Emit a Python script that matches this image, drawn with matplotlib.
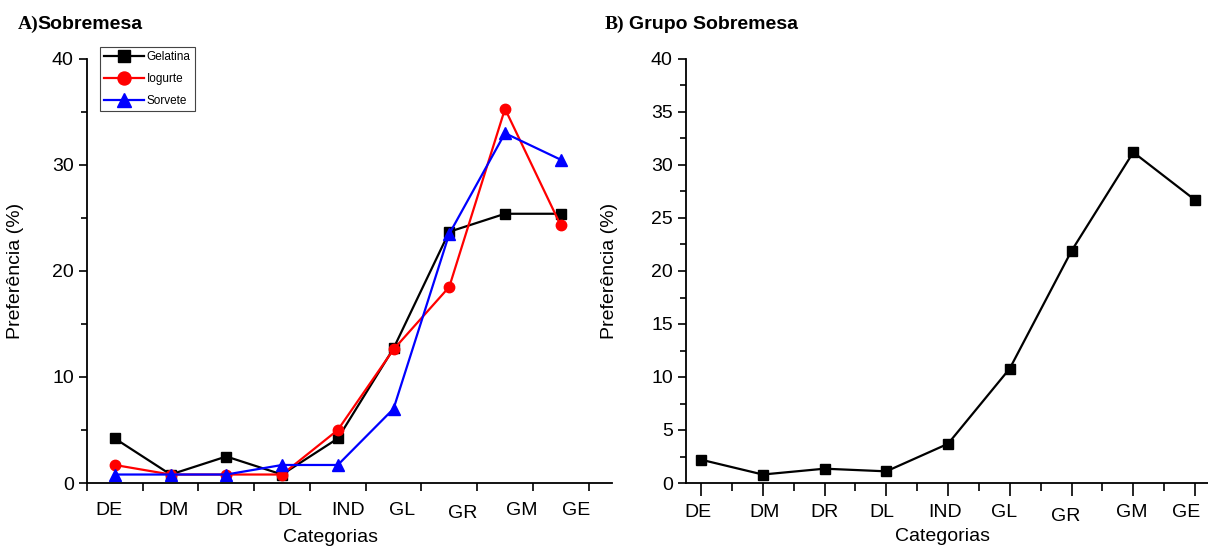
import matplotlib
matplotlib.use("Agg")
import matplotlib.pyplot as plt
import matplotlib.transforms as mtransforms
from matplotlib.ticker import MultipleLocator, FixedLocator, NullFormatter

plt.rcParams['font.family'] = ['Liberation Sans', 'DejaVu Sans']

categorias = ['DE', 'DM', 'DR', 'DL', 'IND', 'GL', 'GR', 'GM', 'GE']
pos = list(range(1, len(categorias) + 1))

gelatina = [4.2, 0.8, 2.5, 0.8, 4.2, 12.7, 23.7, 25.4, 25.4]
iogurte = [1.7, 0.8, 0.8, 0.8, 5.0, 12.6, 18.5, 35.3, 24.3]
sorvete = [0.8, 0.8, 0.8, 1.7, 1.7, 7.0, 23.5, 33.0, 30.5]

grupo = [2.2, 0.8, 1.35, 1.1, 3.7, 10.8, 21.9, 31.2, 26.7]

# small hand offsets (px) of the category labels, as in the original figure
off_a = [(-6, 0), (3, 0), (3, 0), (8, 0), (10, 0), (9, 0), (13, -3), (17, 0), (15, 0)]
off_b = [(-3, 0), (2, 0), (0, 0), (-4, 0), (-3, 0), (-6, 0), (-6, -4), (-2, 0), (-9, 0)]

W, H = 1208, 548
FS = 14
fig = plt.figure(figsize=(W / 100, H / 100), dpi=100)


def px_axes(x0, y0, x1, y1):
    return fig.add_axes([x0 / W, 1 - y1 / H, (x1 - x0) / W, (y1 - y0) / H])


def style(ax):
    for s in ['top', 'right']:
        ax.spines[s].set_visible(False)
    for s in ['left', 'bottom']:
        ax.spines[s].set_linewidth(1.3)
    ax.tick_params(which='both', direction='out', width=1.2, labelsize=FS)
    ax.tick_params(which='major', length=6)
    ax.tick_params(which='minor', length=4)
    ax.set_ylabel('Preferência (%)', fontsize=FS)
    ax.set_xlabel('Categorias', fontsize=FS)


def shift(labels, offs):
    for lab, (dx, dy) in zip(labels, offs):
        lab.set_transform(lab.get_transform() +
                          mtransforms.ScaledTranslation(dx / 100, dy / 100, fig.dpi_scale_trans))


# ---- A) Sobremesa
ax1 = px_axes(87, 59, 612, 483)
ax1.plot(pos, gelatina, 's-', color='black', lw=1.6, ms=7, label='Gelatina')
ax1.plot(pos, iogurte, 'o-', color='red', lw=1.6, ms=7.5, label='Iogurte')
ax1.plot(pos, sorvete, '^-', color='blue', lw=1.6, ms=8.5, label='Sorvete')
ax1.set_xlim(0.5, 9.92)
ax1.set_ylim(0, 40)
ax1.yaxis.set_major_locator(MultipleLocator(10))
ax1.yaxis.set_minor_locator(MultipleLocator(5))
style(ax1)
# ticks sit between the categories, labels under the points
ax1.set_xticks([p - 0.5 for p in pos] + [pos[-1] + 0.5])
ax1.xaxis.set_major_formatter(NullFormatter())
ax1.xaxis.set_minor_locator(FixedLocator(pos))
ax1.set_xticklabels(categorias, minor=True)
ax1.tick_params(axis='x', which='minor', length=0, pad=14)
shift(ax1.get_xticklabels(minor=True), off_a)
ax1.yaxis.set_label_coords(-0.12, 0.5)
ax1.xaxis.set_label_coords(0.463, -0.108)

leg = ax1.legend(loc='upper left', bbox_to_anchor=(0.025, 1.028), fontsize=8.5,
                 handlelength=3.4, fancybox=False, framealpha=1, markerscale=1.25,
                 edgecolor='#444444', borderpad=0.35, labelspacing=0.85,
                 handletextpad=0.2, borderaxespad=0)
leg.get_frame().set_linewidth(0.8)

# ---- B) Grupo Sobremesa
ax2 = px_axes(686, 59, 1208, 483)
ax2.plot(pos, grupo, 's-', color='black', lw=1.6, ms=6.5)
ax2.set_xlim(0.757, 9.21)
ax2.set_ylim(0, 40)
ax2.yaxis.set_major_locator(MultipleLocator(5))
ax2.yaxis.set_minor_locator(MultipleLocator(2.5))
ax2.xaxis.set_minor_locator(MultipleLocator(0.5))
style(ax2)
ax2.set_xticks(pos)
ax2.set_xticklabels(categorias)
ax2.tick_params(axis='x', which='major', length=9, pad=6)
ax2.tick_params(axis='x', which='minor', length=6)
shift(ax2.get_xticklabels(), off_b)
ax2.yaxis.set_label_coords(-0.13, 0.5)
ax2.xaxis.set_label_coords(0.492, -0.105)

# panel titles: letter in a serif face, the rest in sans
ty = 1 - 29 / H
fig.text(18 / W, ty, 'A)', family='Liberation Serif', weight='bold', fontsize=FS)
fig.text(37 / W, ty, 'Sobremesa', weight='bold', fontsize=FS)
fig.text(605 / W, ty, 'B)', family='Liberation Serif', weight='bold', fontsize=FS)
fig.text(629 / W, ty, 'Grupo Sobremesa', weight='bold', fontsize=FS)

fig.savefig('out.png', dpi=100, facecolor='white')
